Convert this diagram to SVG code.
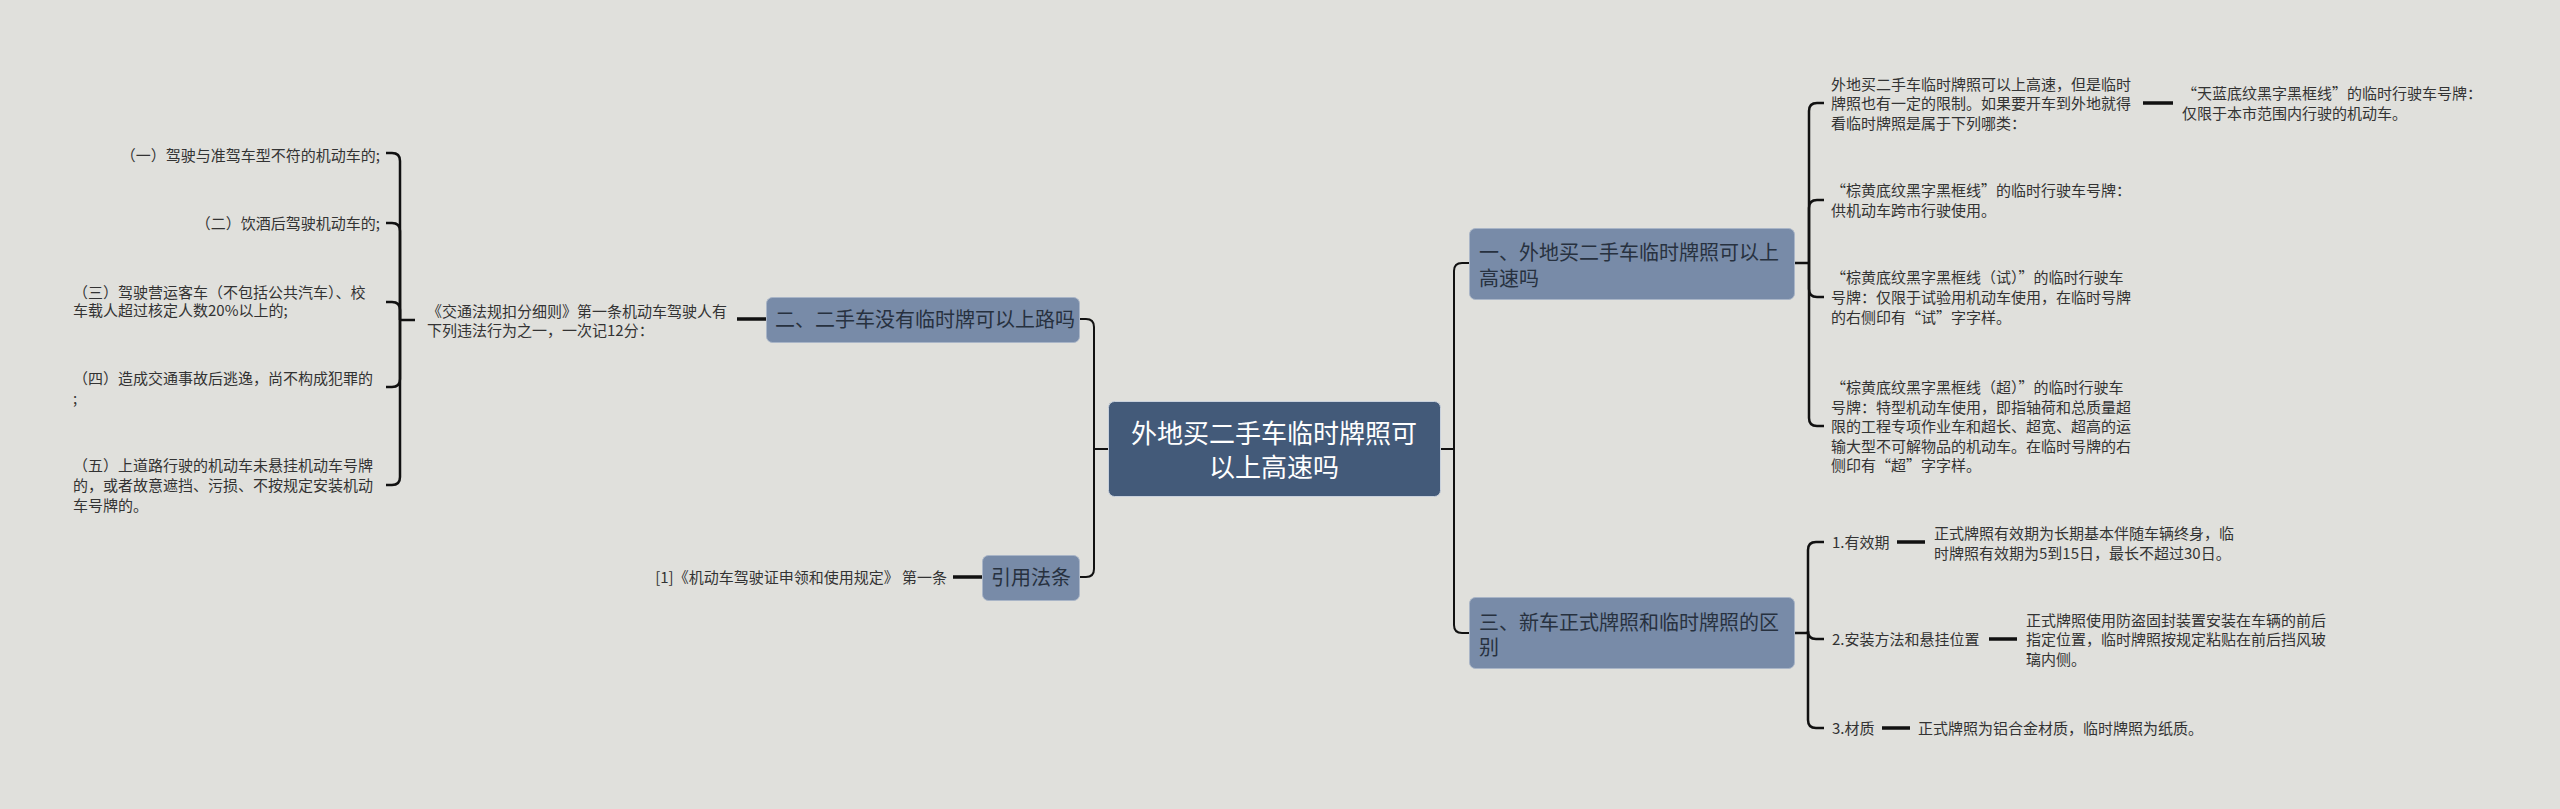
<svg xmlns="http://www.w3.org/2000/svg" width="2560" height="809" viewBox="0 0 2560 809">
<style>
text{font-family:"Noto Sans CJK SC","Noto Sans",sans-serif;}
.t{font-size:15px;fill:#333333;}
.b{font-size:20px;fill:#27313f;}
.c{font-size:26px;fill:#ffffff;}
.main{fill:#435a79;stroke:#c9d1dc;stroke-width:1;}
.sub{fill:#788ba8;stroke:#a9b5c7;stroke-width:1;}
.ln{fill:none;stroke:#111111;stroke-width:2;}
.br{fill:none;stroke:#111111;stroke-width:2.5;}
.st{fill:none;stroke:#111111;stroke-width:3.5;}
</style>
<rect width="2560" height="809" fill="#e0e0dc"/>
<g id="connectors">
<path class="ln" d="M1080 319 H1086 Q1094 319 1094 327 V569 Q1094 577 1086 577 H1080"/>
<path class="ln" d="M1094 449 H1108"/>
<path class="ln" d="M1441 449 H1454"/>
<path class="ln" d="M1469 263 H1462 Q1454 263 1454 271 V625 Q1454 633 1462 633 H1469"/>
<path class="br" d="M1794 263 H1809"/>
<path class="br" d="M1809 263 V111 Q1809 103 1817 103 H1824"/>
<path class="br" d="M1809 263 V208 Q1809 200 1817 200 H1824"/>
<path class="br" d="M1809 263 V289 Q1809 297 1817 297 H1824"/>
<path class="br" d="M1809 263 V418 Q1809 426 1817 426 H1824"/>
<path class="br" d="M1794 633 H1808"/>
<path class="br" d="M1808 633 V550 Q1808 542 1816 542 H1824"/>
<path class="br" d="M1808 633 V631 Q1808 639 1816 639 H1824"/>
<path class="br" d="M1808 633 V720 Q1808 728 1816 728 H1824"/>
<path class="br" d="M415 320 H400"/>
<path class="br" d="M400 320 V161 Q400 153 392 153 H386"/>
<path class="br" d="M400 320 V231 Q400 223 392 223 H386"/>
<path class="br" d="M400 320 V310 Q400 302 392 302 H386"/>
<path class="br" d="M400 320 V379 Q400 387 392 387 H386"/>
<path class="br" d="M400 320 V477 Q400 485 392 485 H386"/>
<path class="st" d="M737 319 H766"/>
<path class="st" d="M953 577 H982"/>
<path class="st" d="M2143 103 H2173"/>
<path class="st" d="M1897 542 H1925"/>
<path class="st" d="M1989 639 H2017"/>
<path class="st" d="M1882 728 H1910"/>
</g>
<g id="root">
<rect class="main" x="1108.5" y="401.5" width="332" height="95" rx="6"/>
<text class="c" x="1274" y="443" text-anchor="middle">外地买二手车临时牌照可</text>
<text class="c" x="1274" y="477" text-anchor="middle">以上高速吗</text>
</g>
<g id="n1">
<rect class="sub" x="1469.5" y="228.5" width="325" height="71" rx="6"/>
<text class="b" x="1479" y="260">一、外地买二手车临时牌照可以上</text>
<text class="b" x="1479" y="286">高速吗</text>
</g>
<g id="n1a">
<text class="t" x="1831"><tspan x="1831" y="90">外地买二手车临时牌照可以上高速，但是临时</tspan><tspan x="1831" y="109">牌照也有一定的限制。如果要开车到外地就得</tspan><tspan x="1831" y="129">看临时牌照是属于下列哪类：</tspan></text>
</g>
<g id="n1a1">
<text class="t"><tspan x="2182" y="99">“天蓝底纹黑字黑框线”的临时行驶车号牌：</tspan><tspan x="2182" y="119">仅限于本市范围内行驶的机动车。</tspan></text>
</g>
<g id="n1b">
<text class="t"><tspan x="1831" y="196">“棕黄底纹黑字黑框线”的临时行驶车号牌：</tspan><tspan x="1831" y="216">供机动车跨市行驶使用。</tspan></text>
</g>
<g id="n1c">
<text class="t"><tspan x="1831" y="283">“棕黄底纹黑字黑框线（试）”的临时行驶车</tspan><tspan x="1831" y="303">号牌：仅限于试验用机动车使用，在临时号牌</tspan><tspan x="1831" y="323">的右侧印有“试”字字样。</tspan></text>
</g>
<g id="n1d">
<text class="t"><tspan x="1831" y="393">“棕黄底纹黑字黑框线（超）”的临时行驶车</tspan><tspan x="1831" y="413">号牌：特型机动车使用，即指轴荷和总质量超</tspan><tspan x="1831" y="432">限的工程专项作业车和超长、超宽、超高的运</tspan><tspan x="1831" y="452">输大型不可解物品的机动车。在临时号牌的右</tspan><tspan x="1831" y="471">侧印有“超”字字样。</tspan></text>
</g>
<g id="n3">
<rect class="sub" x="1469.5" y="597.5" width="325" height="71" rx="6"/>
<text class="b" x="1479" y="630">三、新车正式牌照和临时牌照的区</text>
<text class="b" x="1479" y="655">别</text>
</g>
<g id="n3a">
<text class="t" x="1832" y="548">1.有效期</text>
</g>
<g id="n3a1">
<text class="t"><tspan x="1934" y="539">正式牌照有效期为长期基本伴随车辆终身，临</tspan><tspan x="1934" y="559">时牌照有效期为5到15日，最长不超过30日。</tspan></text>
</g>
<g id="n3b">
<text class="t" x="1832" y="645">2.安装方法和悬挂位置</text>
</g>
<g id="n3b1">
<text class="t"><tspan x="2026" y="626">正式牌照使用防盗固封装置安装在车辆的前后</tspan><tspan x="2026" y="645">指定位置，临时牌照按规定粘贴在前后挡风玻</tspan><tspan x="2026" y="665">璃内侧。</tspan></text>
</g>
<g id="n3c">
<text class="t" x="1832" y="734">3.材质</text>
</g>
<g id="n3c1">
<text class="t" x="1918" y="734">正式牌照为铝合金材质，临时牌照为纸质。</text>
</g>
<g id="n2">
<rect class="sub" x="766.5" y="297.5" width="313" height="45" rx="6"/>
<text class="b" x="775" y="327">二、二手车没有临时牌可以上路吗</text>
</g>
<g id="n2a">
<text class="t"><tspan x="427" y="317">《交通法规扣分细则》第一条机动车驾驶人有</tspan><tspan x="427" y="336">下列违法行为之一，一次记12分：</tspan></text>
</g>
<g id="n2a1"><text class="t" x="380" y="161" text-anchor="end">（一）驾驶与准驾车型不符的机动车的;</text></g>
<g id="n2a2"><text class="t" x="380" y="229" text-anchor="end">（二）饮酒后驾驶机动车的;</text></g>
<g id="n2a3"><text class="t"><tspan x="73" y="298">（三）驾驶营运客车（不包括公共汽车）、校</tspan><tspan x="73" y="316">车载人超过核定人数20%以上的;</tspan></text></g>
<g id="n2a4"><text class="t"><tspan x="73" y="384">（四）造成交通事故后逃逸，尚不构成犯罪的</tspan><tspan x="73" y="404">;</tspan></text></g>
<g id="n2a5"><text class="t"><tspan x="73" y="471">（五）上道路行驶的机动车未悬挂机动车号牌</tspan><tspan x="73" y="491">的，或者故意遮挡、污损、不按规定安装机动</tspan><tspan x="73" y="511">车号牌的。</tspan></text></g>
<g id="n4">
<rect class="sub" x="982.5" y="555.5" width="97" height="45" rx="6"/>
<text class="b" x="991" y="585">引用法条</text>
</g>
<g id="n4a">
<text class="t" x="947" y="583" text-anchor="end">[1]《机动车驾驶证申领和使用规定》 第一条</text>
</g>
</svg>
